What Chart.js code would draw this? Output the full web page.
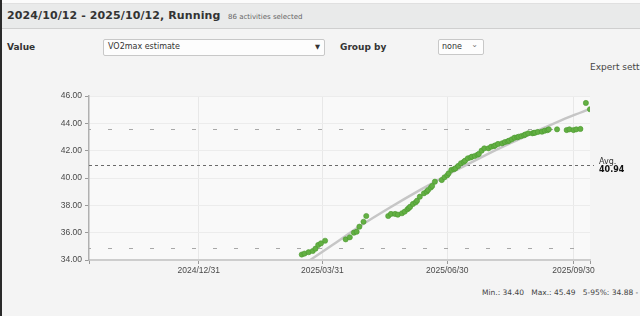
<!DOCTYPE html>
<html>
<head>
<meta charset="utf-8">
<script src="https://cdn.jsdelivr.net/npm/chart.js@4.4.1/dist/chart.umd.min.js"></script>
<style>
  html, body { margin:0; padding:0; }
  body { width:640px; height:316px; overflow:hidden; background:#f4f4f4; position:relative; font-family:"DejaVu Sans", Verdana, sans-serif; color:#333; }
  .edge { position:absolute; left:0; top:0; width:2px; height:316px; background:#2a2a2a; }
  .topstrip { position:absolute; left:2px; top:0; width:638px; height:3px; background:#fbfbfb; border-bottom:1px solid #e0e0e0; }
  .head { position:absolute; left:2px; top:4px; width:638px; height:24px; background:#e9eaea; border-bottom:1px solid #cfcfcf; }
  .title { position:absolute; left:7px; top:9px; font-weight:bold; font-size:11px; color:#333; white-space:nowrap; letter-spacing:0.1px; }
  .sel { position:absolute; left:228px; top:13px; font-size:7px; color:#666; white-space:nowrap; }
  .lbl { position:absolute; font-weight:bold; font-size:9px; color:#333; white-space:nowrap; }
  .box { position:absolute; background:#fdfdfd; border:1px solid #c8c8c8; border-radius:2px; font-size:8px; color:#333; }
  .expert { position:absolute; left:590px; top:62px; font-size:9px; color:#444; white-space:nowrap; }
  .stats { position:absolute; left:482px; top:288px; font-size:7.5px; color:#444; white-space:pre; }
  #wrap { position:absolute; left:0; top:85px; width:640px; height:195px; }
</style>
</head>
<body>
<div class="edge"></div>
<div class="topstrip"></div>
<div class="head"></div>
<div class="title">2024/10/12 - 2025/10/12, Running</div>
<div class="sel">86 activities selected</div>
<div class="lbl" style="left:7px;top:42px;">Value</div>
<div class="box" style="left:103px;top:39px;width:220px;height:15px;"><span style="position:absolute;left:4px;top:2px;">VO2max estimate</span><span style="position:absolute;right:4px;top:3px;font-size:6.5px;">&#9660;</span></div>
<div class="lbl" style="left:340px;top:42px;">Group by</div>
<div class="box" style="left:438px;top:39px;width:44px;height:14px;"><span style="position:absolute;left:3px;top:2px;">none</span><span style="position:absolute;right:5px;top:0px;font-size:8px;color:#777;">&#8964;</span></div>
<div class="expert">Expert settings</div>
<div id="wrap"><canvas id="c" width="640" height="195"></canvas></div>
<div class="stats">Min.: 34.40   Max.: 45.49   5-95%: 34.88 - 43.55</div>
<script>
// ---- data ----
const rangeStart = '2024-10-12';
const rangeEnd = '2025-10-12';
const tickLabels = ['2024/12/31', '2025/03/31', '2025/06/30', '2025/09/30'];
const yTicks = [34, 36, 38, 40, 42, 44, 46];
const dates = [
  '2025-03-16','2025-03-18','2025-03-21','2025-03-24','2025-03-26','2025-03-28','2025-03-30','2025-04-02',
  '2025-04-17','2025-04-20','2025-04-23','2025-04-25','2025-04-27','2025-04-30','2025-05-02',
  '2025-05-18','2025-05-20','2025-05-23','2025-05-25','2025-05-28','2025-05-30','2025-06-01','2025-06-02',
  '2025-06-03','2025-06-05','2025-06-07','2025-06-08','2025-06-10','2025-06-13','2025-06-15','2025-06-16',
  '2025-06-18','2025-06-19','2025-06-21',
  '2025-06-26','2025-06-28','2025-06-30','2025-07-01','2025-07-03','2025-07-05','2025-07-06','2025-07-08',
  '2025-07-10','2025-07-12','2025-07-13','2025-07-15','2025-07-17','2025-07-18','2025-07-20','2025-07-22',
  '2025-07-23','2025-07-25','2025-07-27','2025-07-30','2025-08-01','2025-08-03','2025-08-04','2025-08-06',
  '2025-08-09','2025-08-11','2025-08-13','2025-08-14','2025-08-16','2025-08-18','2025-08-20','2025-08-21',
  '2025-08-23','2025-08-25','2025-08-26','2025-08-28','2025-08-31','2025-09-01','2025-09-02','2025-09-04',
  '2025-09-07','2025-09-09','2025-09-11','2025-09-12',
  '2025-09-18','2025-09-25','2025-09-27','2025-09-30','2025-10-02','2025-10-05','2025-10-09','2025-10-12'
];
const vo2 = [
  34.40,34.47,34.57,34.66,34.83,35.10,35.22,35.41,
  35.51,35.66,36.00,36.07,36.44,36.80,37.22,
  37.22,37.37,37.37,37.32,37.42,37.54,37.71,37.80,
  37.90,38.10,38.22,38.34,38.63,38.88,39.00,39.12,
  39.30,39.42,39.73,
  39.85,40.05,40.20,40.34,40.59,40.65,40.71,40.88,
  41.08,41.18,41.27,41.44,41.50,41.56,41.61,41.70,
  41.76,42.00,42.17,42.17,42.29,42.33,42.39,42.49,
  42.54,42.63,42.68,42.73,42.83,42.95,42.98,43.02,
  43.07,43.13,43.19,43.27,43.27,43.30,43.32,43.37,
  43.39,43.46,43.50,43.56,
  43.56,43.51,43.56,43.51,43.56,43.59,45.49,45.03
];
// smoothed trend curve, read at several dates
const trendDates = ['2025-03-16','2025-04-06','2025-04-27','2025-05-19','2025-06-10','2025-07-02',
                    '2025-07-24','2025-08-15','2025-09-06','2025-09-27','2025-10-12'];
const trendValues = [33.59, 35.00, 36.45, 37.82, 39.11, 40.33, 41.48, 42.55, 43.55, 44.47, 45.05];
const avgValue = 40.94;
const p5Value = 34.88;
const p95Value = 43.55;

// ---- helpers ----
const DAY = 86400000;
const dayOf = d => (Date.parse(d) - Date.parse(rangeStart)) / DAY;
const xMin = 0, xMax = dayOf(rangeEnd);
const tickDays = tickLabels.map(t => dayOf(t.replace(/\//g, '-')));

const refLines = {
  id: 'refLines',
  beforeDraw(chart) {
    const {ctx, chartArea: a} = chart;
    ctx.save();
    ctx.fillStyle = '#f9f9f9';
    ctx.fillRect(a.left, a.top, a.right - a.left, a.bottom - a.top);
    ctx.restore();
  },
  beforeDatasetsDraw(chart) {
    const {ctx, chartArea: a, scales: {y}} = chart;
    ctx.save();
    ctx.lineWidth = 1;
    ctx.strokeStyle = '#a8a8a8';
    ctx.setLineDash([4, 17]);
    ctx.lineDashOffset = -19;
    [p5Value, p95Value].forEach(v => {
      const py = Math.round(y.getPixelForValue(v)) + 0.5;
      ctx.beginPath(); ctx.moveTo(a.left, py); ctx.lineTo(a.right, py); ctx.stroke();
    });
    ctx.strokeStyle = '#6a6a6a';
    ctx.setLineDash([3, 3]);
    ctx.lineDashOffset = 0;
    const ay = Math.round(y.getPixelForValue(avgValue)) + 0.5;
    ctx.beginPath(); ctx.moveTo(a.left, ay); ctx.lineTo(a.right + 4, ay); ctx.stroke();
    ctx.setLineDash([]);
    ctx.fillStyle = '#333';
    ctx.textBaseline = 'middle';
    ctx.font = '8px "DejaVu Sans"';
    ctx.fillText('Avg.', a.right + 9, ay - 4);
    ctx.fillStyle = '#111';
    ctx.font = 'bold 8px "DejaVu Sans"';
    ctx.fillText(avgValue.toFixed(2), a.right + 9, ay + 4.5);
    ctx.restore();
  }
};

new Chart(document.getElementById('c'), {
  type: 'scatter',
  data: {
    datasets: [
      {
        data: dates.map((d, i) => ({x: dayOf(d), y: vo2[i]})),
        backgroundColor: '#63b043',
        borderColor: '#4c9831',
        borderWidth: 0.6,
        pointRadius: 2.6,
        showLine: false
      },
      {
        type: 'line',
        data: trendDates.map((d, i) => ({x: dayOf(d), y: trendValues[i]})),
        borderColor: '#c6c6c6',
        borderWidth: 2.5,
        pointRadius: 0,
        cubicInterpolationMode: 'monotone',
        fill: false,
        clip: 0
      }
    ]
  },
  options: {
    responsive: false,
    animation: false,
    layout: { padding: { top: 11, right: 50, bottom: 0, left: 0 } },
    plugins: { legend: { display: false }, tooltip: { enabled: false } },
    scales: {
      x: {
        type: 'linear',
        min: xMin, max: xMax,
        afterBuildTicks: s => { s.ticks = [xMin, ...tickDays, xMax].map(v => ({value: v})); },
        afterFit: s => { s.height = 20; },
        ticks: {
          autoSkip: false, maxRotation: 0, padding: 2,
          color: '#4a4a4a',
          font: { family: '"Liberation Sans", Arial, sans-serif', size: 8.5 },
          callback: v => { const i = tickDays.indexOf(v); return i >= 0 ? tickLabels[i] : ''; }
        },
        grid: { color: ctx => (ctx.tick && tickDays.includes(ctx.tick.value)) ? '#e8e8e8' : 'rgba(0,0,0,0)', tickColor: '#999', tickLength: 4 },
        border: { color: '#cdcdcd', width: 2 }
      },
      y: {
        min: 34, max: 46,
        afterBuildTicks: s => { s.ticks = yTicks.map(v => ({value: v})); },
        afterFit: s => { s.width = 89; },
        ticks: {
          padding: 3,
          color: '#4a4a4a',
          font: { family: '"Liberation Sans", Arial, sans-serif', size: 8.5 },
          callback: v => Number(v).toFixed(2)
        },
        grid: { color: '#ececec', tickColor: '#999', tickLength: 4 },
        border: { color: '#b0b0b0', width: 1.5 }
      }
    }
  },
  plugins: [refLines]
});
</script>
</body>
</html>
